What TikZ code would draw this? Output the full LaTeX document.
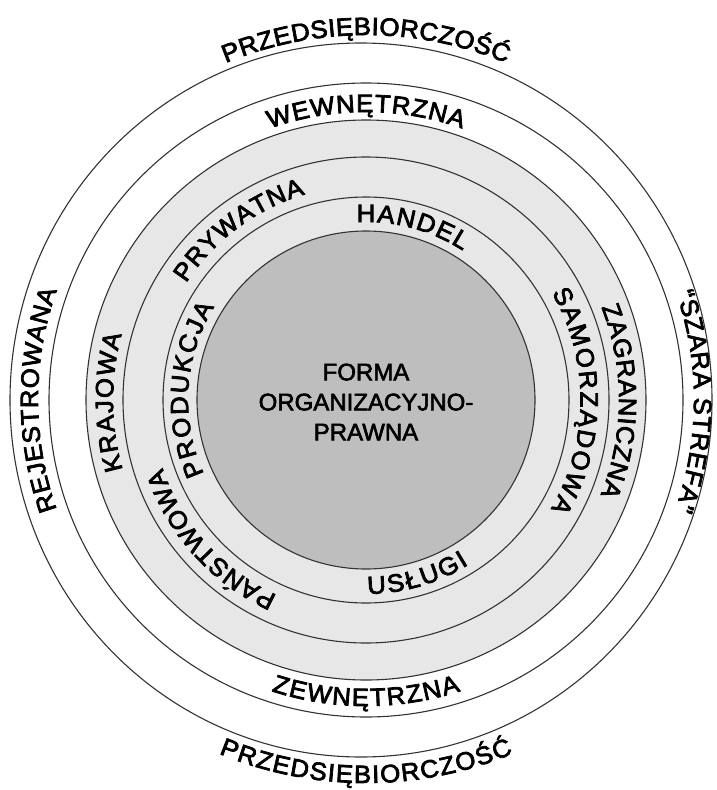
\documentclass[tikz,border=0pt]{standalone}
\usepackage{fontspec}
\setmainfont{Liberation Sans}
\newfontfamily\heavysans{Liberation Sans}[FakeBold=3, FakeStretch=1.03]
\newfontfamily\coresans{Liberation Sans}[FakeBold=2.5]
\usetikzlibrary{decorations.text}
\definecolor{ringgray}{HTML}{E7E7E7}
\definecolor{coregray}{HTML}{BEBEBE}
\newcommand\arcfont{\heavysans\fontsize{25}{30}\selectfont}
\tikzset{
  ringline/.style={draw=black!80, line width=1.1pt},
  arctext/.style={decorate, decoration={text along path, text={|\arcfont|#1}, text align={fit to path}}},
}
\begin{document}
\begin{tikzpicture}[x=1pt,y=1pt]
\useasboundingbox (0,0) rectangle (716,-790);
\fill[white] (0,0) rectangle (716,-790);
\coordinate (C) at (366,-400);
% rings
\draw[ringline] (361,-400) ellipse [x radius=351, y radius=357];
\draw[ringline] (C) circle [radius=317];
\draw[ringline, fill=ringgray] (C) circle [radius=280];
\draw[ringline] (C) circle [radius=243];
\draw[ringline] (C) circle [radius=203];
\draw[ringline, fill=coregray] (C) circle [radius=169];
\node[font=\coresans\fontsize{24}{30}\selectfont, align=center] (core) at (366,-402) {FORMA\\ORGANIZACYJNO-\\PRAWNA};
% outside
\path[arctext={PRZEDSIĘBIORCZOŚĆ}] ([shift={(112.6:365)}]C) arc[start angle=112.6, end angle=67.4, radius=365];
\path[arctext={PRZEDSIĘBIORCZOŚĆ}] ([shift={(247.4:383)}]C) arc[start angle=247.4, end angle=292.6, radius=383];
% ring 1-2
\path[arctext={REJESTROWANA}] ([shift={(199.5:328)}]C) arc[start angle=199.5, end angle=160.5, radius=328];
\path[arctext={“SZARA STREFA”}] ([shift={(19:328)}]C) arc[start angle=19, end angle=-19.5, radius=328];
% ring 2-3
\path[arctext={WEWNĘTRZNA}] ([shift={(109.5:288)}]C) arc[start angle=109.5, end angle=70.5, radius=288];
\path[arctext={ZEWNĘTRZNA}] ([shift={(252:306)}]C) arc[start angle=252, end angle=288, radius=306];
% ring 3-4
\path[arctext={KRAJOWA}] ([shift={(196:253)}]C) arc[start angle=196, end angle=165, radius=253];
\path[arctext={ZAGRANICZNA}] ([shift={(21.5:253)}]C) arc[start angle=21.5, end angle=-22, radius=253];
% ring 4-5
\path[arctext={PRYWATNA}] ([shift={(147:214.5)}]C) arc[start angle=147, end angle=106.5, radius=214.5];
\path[arctext={SAMORZĄDOWA}] ([shift={(30:214.5)}]C) arc[start angle=30, end angle=-30.5, radius=214.5];
\path[arctext={PAŃSTWOWA}] ([shift={(245.5:214.5)}]C) arc[start angle=245.5, end angle=198.5, radius=214.5];
% ring 5-core
\path[arctext={HANDEL}] ([shift={(93:178)}]C) arc[start angle=93, end angle=57, radius=178];
\path[arctext={PRODUKCJA}] ([shift={(204.5:178)}]C) arc[start angle=204.5, end angle=148.5, radius=178];
\path[arctext={USŁUGI}] ([shift={(-89.5:194)}]C) arc[start angle=-89.5, end angle=-58, radius=194];
\end{tikzpicture}
\end{document}
